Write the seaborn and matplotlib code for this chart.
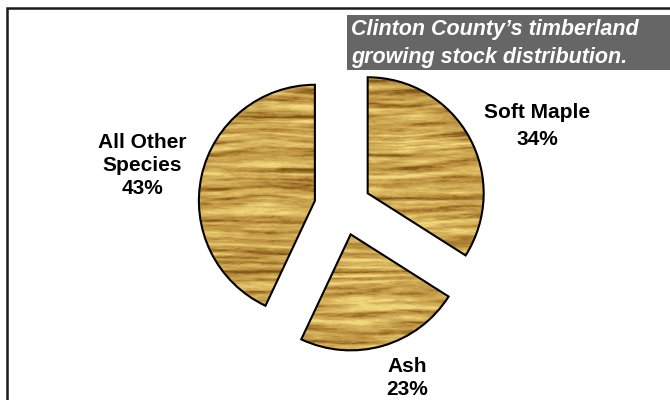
import numpy as np
import matplotlib
matplotlib.use("Agg")
import matplotlib.pyplot as plt
import seaborn as sns
from matplotlib.patches import Rectangle
from matplotlib.lines import Line2D
from matplotlib.colors import LinearSegmentedColormap

# ---- data ----
species = ["Soft Maple", "Ash", "All Other\nSpecies"]
shares = [34, 23, 43]
title_lines = ["Clinton County\u2019s timberland", "growing stock distribution."]

sns.set_theme(style="white")
plt.rcParams['font.family'] = ['Liberation Sans', 'DejaVu Sans']

W, H = 670, 400
fig = plt.figure(figsize=(6.7, 4.0), dpi=100)
fig.patch.set_facecolor("white")
ax = fig.add_axes([0, 0, 1, 1])

wedges, _ = ax.pie(shares, startangle=90, counterclock=False, radius=116,
                   center=(342.7, H - 207), explode=[28.5] * 3,
                   wedgeprops=dict(edgecolor="black", linewidth=1.5, facecolor="none"),
                   frame=True)
for w in wedges:
    w.set_zorder(3)

ax.set_xlim(0, W)
ax.set_ylim(0, H)
ax.set_aspect("equal")
ax.axis("off")

# ---- wood grain texture (styling only) ----
rng = np.random.default_rng(5)

def smooth_noise(lo_h, lo_w):
    lo = rng.standard_normal((lo_h, lo_w))
    xs = np.linspace(0, lo_w - 1, W)
    ys = np.linspace(0, lo_h - 1, H)
    tmp = np.array([np.interp(xs, np.arange(lo_w), row) for row in lo])
    out = np.array([np.interp(ys, np.arange(lo_h), tmp[:, j]) for j in range(W)]).T
    return out

yy, xx = np.mgrid[0:H, 0:W].astype(float)
n1 = smooth_noise(25, 6)
n2 = smooth_noise(130, 14)
n3 = smooth_noise(260, 60)
n4 = smooth_noise(400, 200)
phase = yy * 0.55 + 3.5 * n1 + 0.8 * np.sin(xx * 0.03)
val = (0.52 + 0.18 * np.sin(phase) + 0.08 * np.sin(phase * 2.3 + 1.3)
       + 0.22 * n2 + 0.09 * n3 + 0.05 * n4)
val = np.clip(val, 0, 1)
wood = LinearSegmentedColormap.from_list(
    "wood", ["#7e5819", "#a3772c", "#bf9442", "#cfaa56", "#dfbf66", "#efd77c"])
for w in wedges:
    im = ax.imshow(val, cmap=wood, extent=(0, W, 0, H), origin="upper",
                   interpolation="bilinear", zorder=2, vmin=0, vmax=1)
    im.set_clip_path(w)
ax.set_xlim(0, W)
ax.set_ylim(0, H)

# ---- labels (va=baseline aligns the last line) ----
lab_kw = dict(ha="center", va="baseline", fontsize=15, fontweight="bold",
              color="black", zorder=5)
ax.text(537, H - 145, f"{species[0]}\n{shares[0]}%", linespacing=1.53, **lab_kw)
ax.text(407, H - 395, f"{species[1]}\n{shares[1]}%", linespacing=1.27, **lab_kw)
ax.text(142, H - 194, f"{species[2]}\n{shares[2]}%", linespacing=1.28, **lab_kw)

# ---- title box ----
ax.add_patch(Rectangle((347, H - 70), W - 347, 55, facecolor="#666666",
                       edgecolor="none", zorder=4))
ax.text(351, H - 63, "\n".join(title_lines), ha="left", va="baseline",
        fontsize=15.5, fontweight="bold", fontstyle="italic", color="white",
        linespacing=1.43, zorder=5)

# ---- frame ----
ax.add_line(Line2D([7, 7, W], [0, H - 8, H - 8], color="#1a1a1a", linewidth=1.8,
                   zorder=6, solid_joinstyle="miter"))

fig.savefig("out.png", dpi=100, facecolor="white")
